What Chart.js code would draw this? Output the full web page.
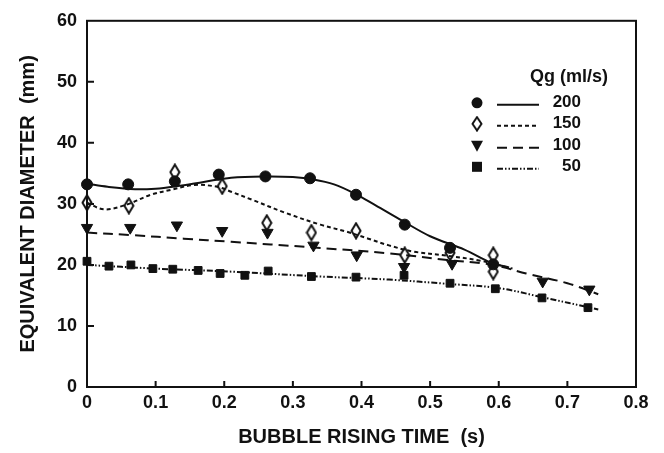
<!DOCTYPE html>
<html>
<head>
<meta charset="utf-8">
<script src="https://cdn.jsdelivr.net/npm/chart.js@4/dist/chart.umd.min.js"></script>
<style>
  html, body { margin: 0; padding: 0; background: #fff; }
  #wrap { width: 664px; height: 453px; }
</style>
</head>
<body>
<div id="wrap"><canvas id="bubbleChart" width="664" height="453"></canvas></div>
<script>
// Qg = 200 ml/s (punten + lijn)
const t200 = [0, 0.06, 0.128, 0.192, 0.26, 0.325, 0.392, 0.463, 0.529, 0.592];
const d200 = [33.2, 33.2, 33.7, 34.8, 34.5, 34.2, 31.5, 26.6, 22.8, 20.1];
const fitT200 = [0, 0.03, 0.07, 0.1, 0.13, 0.17, 0.21, 0.26, 0.3, 0.33, 0.36, 0.39, 0.42, 0.46, 0.5, 0.55, 0.59, 0.615];
const fitD200 = [33.3, 32.8, 32.4, 32.5, 32.9, 33.6, 34.3, 34.5, 34.4, 34.0, 33.2, 31.7, 29.8, 27.2, 24.7, 22.5, 20.3, 19.6];

// Qg = 150 ml/s
const t150 = [0, 0.061, 0.128, 0.197, 0.262, 0.327, 0.392, 0.463, 0.529, 0.592, 0.592];
const d150 = [30.2, 29.7, 35.2, 32.9, 26.9, 25.3, 25.6, 21.6, 22.0, 21.6, 18.9];
const fitT150 = [0, 0.025, 0.058, 0.093, 0.122, 0.156, 0.19, 0.21, 0.24, 0.29, 0.34, 0.38, 0.41, 0.44, 0.475, 0.525, 0.573, 0.62];
const fitD150 = [30.2, 29.1, 29.9, 31.5, 32.3, 33.1, 32.8, 32.0, 30.7, 28.5, 26.6, 25.4, 24.3, 23.2, 22.2, 21.5, 20.7, 19.4];

// Qg = 100 ml/s
const t100 = [0, 0.063, 0.131, 0.197, 0.263, 0.33, 0.393, 0.462, 0.532, 0.664, 0.732];
const d100 = [26.1, 26.1, 26.5, 25.6, 25.3, 23.2, 21.6, 19.7, 20.2, 17.3, 16.0];
const fitT100 = [0, 0.064, 0.141, 0.21, 0.325, 0.44, 0.525, 0.573, 0.6, 0.64, 0.7, 0.745];
const fitD100 = [25.3, 24.9, 24.3, 23.8, 22.9, 21.9, 20.8, 20.3, 19.8, 18.6, 17.0, 15.2];

// Qg = 50 ml/s
const t50 = [0, 0.032, 0.064, 0.096, 0.125, 0.162, 0.194, 0.23, 0.264, 0.327, 0.392, 0.462, 0.529, 0.595, 0.663, 0.73];
const d50 = [20.6, 19.8, 20.0, 19.4, 19.3, 19.1, 18.6, 18.3, 19.0, 18.1, 18.0, 18.3, 17.0, 16.1, 14.6, 13.0];
const fitT50 = [0, 0.1, 0.21, 0.34, 0.44, 0.525, 0.6, 0.66, 0.745];
const fitD50 = [20.0, 19.4, 18.9, 18.1, 17.6, 16.9, 16.2, 14.8, 12.7];

const xTicks = [0, 0.1, 0.2, 0.3, 0.4, 0.5, 0.6, 0.7, 0.8];
const yTicks = [0, 10, 20, 30, 40, 50, 60];
const legendLabels = ["200", "150", "100", "50"];

const FONT = "'Liberation Sans', Arial, sans-serif";
const INK = "#111";

const toXY = (xs, ys) => xs.map((x, i) => ({ x: x, y: ys[i] }));

// open ruitje, hoger dan breed
function makeDiamond() {
    const c = document.createElement("canvas");
    c.width = 12; c.height = 18;
    const g = c.getContext("2d");
    g.beginPath();
    g.moveTo(6, 1.5); g.lineTo(10.5, 9); g.lineTo(6, 16.5); g.lineTo(1.5, 9); g.closePath();
    g.fillStyle = "#fff"; g.fill();
    g.lineWidth = 2; g.strokeStyle = INK; g.stroke();
    return c;
}
const diamond = makeDiamond();

const dashes = {
    "200": [],
    "150": [4, 3],
    "100": [10, 6],
    "50": [6, 2, 1.5, 2, 1.5, 2]
};

function pointSet(label, data, style, radius, rotation) {
    return {
        label: label, data: data, showLine: false, clip: false,
        pointStyle: style, pointRadius: radius, pointHoverRadius: radius,
        rotation: rotation || 0,
        backgroundColor: INK, borderColor: INK, borderWidth: 1
    };
}
function lineSet(label, data, dash) {
    return {
        label: label, data: data, showLine: true, pointRadius: 0,
        borderColor: INK, borderWidth: 2, borderDash: dash,
        tension: 0.35, fill: false
    };
}

// kader, ticks naar binnen en legenda
const framePlugin = {
    id: "frame",
    afterDatasetsDraw(chart) {
        const ctx = chart.ctx;
        const a = chart.chartArea;
        const xs = chart.scales.x, ys = chart.scales.y;
        ctx.save();
        ctx.strokeStyle = INK;
        ctx.lineWidth = 2;
        ctx.strokeRect(a.left, a.top, a.right - a.left, a.bottom - a.top);
        ctx.beginPath();
        xTicks.slice(1, -1).forEach(v => {
            const px = xs.getPixelForValue(v);
            ctx.moveTo(px, a.bottom); ctx.lineTo(px, a.bottom - 6);
        });
        yTicks.slice(1, -1).forEach(v => {
            const py = ys.getPixelForValue(v);
            ctx.moveTo(a.left, py); ctx.lineTo(a.left + 7, py);
        });
        ctx.stroke();

        // legenda
        const lx = a.right - 159;
        ctx.fillStyle = INK;
        ctx.font = "bold 18px " + FONT;
        ctx.textBaseline = "middle";
        ctx.textAlign = "center";
        ctx.fillText("Qg (ml/s)", a.right - 67, a.top + 56);
        ctx.font = "bold 17px " + FONT;
        const rows = [82, 103, 125, 146];
        legendLabels.forEach((lab, i) => {
            const y = a.top + rows[i];
            // marker
            ctx.fillStyle = INK;
            ctx.strokeStyle = INK;
            ctx.setLineDash([]);
            if (i === 0) {
                ctx.beginPath(); ctx.arc(lx, y, 5.5, 0, Math.PI * 2); ctx.fill();
            } else if (i === 1) {
                ctx.drawImage(diamond, lx - 6, y - 8, 12, 16);
            } else if (i === 2) {
                ctx.beginPath(); ctx.moveTo(lx - 6, y - 5); ctx.lineTo(lx + 6, y - 5); ctx.lineTo(lx, y + 6); ctx.closePath(); ctx.fill();
            } else {
                ctx.fillRect(lx - 5, y - 5, 10, 10);
            }
            // lijnstuk
            ctx.beginPath();
            ctx.lineWidth = 2;
            ctx.setLineDash(dashes[lab]);
            ctx.moveTo(lx + 20, y + 2); ctx.lineTo(lx + 62, y + 2);
            ctx.stroke();
            ctx.setLineDash([]);
            ctx.textAlign = "right";
            ctx.fillText(lab, lx + 104, y);
        });
        ctx.restore();
    }
};

const ctx = document.getElementById("bubbleChart").getContext("2d");
new Chart(ctx, {
    type: "scatter",
    data: {
        datasets: [
            lineSet("200 fit", toXY(fitT200, fitD200), dashes["200"]),
            lineSet("150 fit", toXY(fitT150, fitD150), dashes["150"]),
            lineSet("100 fit", toXY(fitT100, fitD100), dashes["100"]),
            lineSet("50 fit", toXY(fitT50, fitD50), dashes["50"]),
            pointSet("200", toXY(t200, d200), "circle", 5.5),
            pointSet("150", toXY(t150, d150), diamond, 8),
            pointSet("100", toXY(t100, d100), "triangle", 6.5, 180),
            pointSet("50", toXY(t50, d50), "rect", 5.5)
        ]
    },
    options: {
        responsive: false,
        animation: false,
        layout: { padding: { top: 15, right: 28, left: 0, bottom: 0 } },
        plugins: {
            legend: { display: false },
            tooltip: { enabled: false }
        },
        scales: {
            x: {
                type: "linear",
                min: 0, max: 0.8,
                afterBuildTicks: s => { s.ticks = xTicks.map(v => ({ value: v })); },
                grid: { display: false, drawTicks: false },
                border: { display: false },
                ticks: {
                    color: INK, padding: 5,
                    font: { family: FONT, size: 18, weight: "bold" },
                    callback: v => (v === 0 ? "0" : v.toFixed(1))
                },
                title: {
                    display: true, text: "BUBBLE RISING TIME  (s)", color: INK,
                    font: { family: FONT, size: 20, weight: "bold" },
                    padding: { top: 10, bottom: 4 }
                },
                afterFit: s => { s.height = 66; }
            },
            y: {
                type: "linear",
                min: 0, max: 60,
                afterBuildTicks: s => { s.ticks = yTicks.map(v => ({ value: v })); },
                grid: { display: false, drawTicks: false },
                border: { display: false },
                ticks: {
                    color: INK, padding: 10,
                    font: { family: FONT, size: 18, weight: "bold" }
                },
                title: {
                    display: true, text: "EQUIVALENT DIAMETER  (mm)", color: INK,
                    font: { family: FONT, size: 20, weight: "bold" },
                    padding: { top: 16, bottom: 4 }
                },
                afterFit: s => { s.width = 87; }
            }
        }
    },
    plugins: [framePlugin]
});
</script>
</body>
</html>
